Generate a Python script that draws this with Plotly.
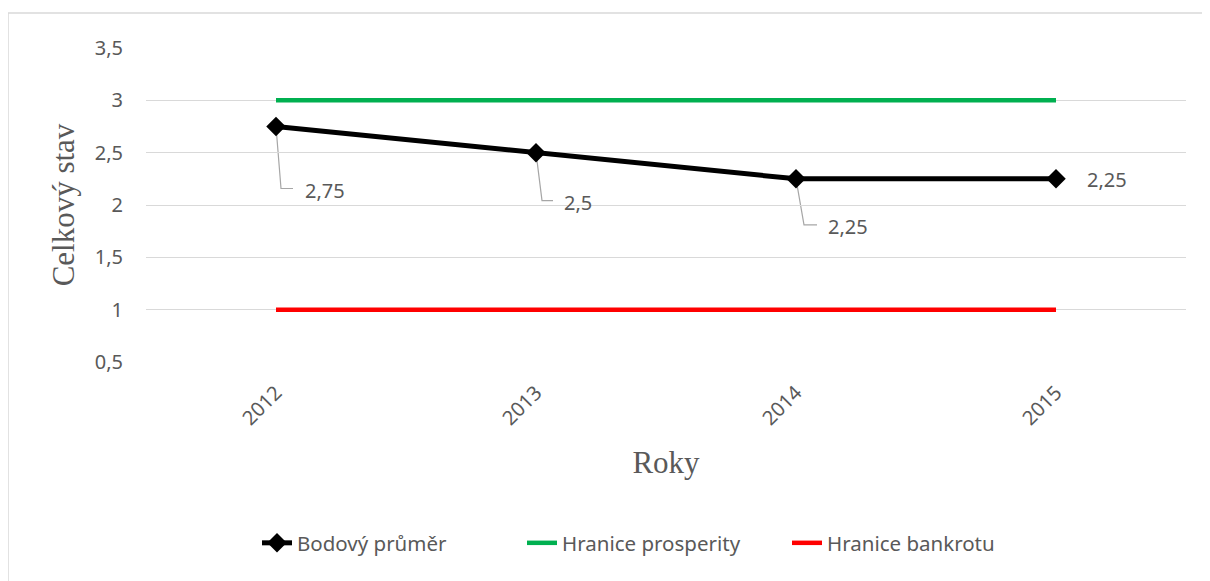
import plotly.graph_objects as go

years = ["2012", "2013", "2014", "2015"]
bodovy_prumer = [2.75, 2.5, 2.25, 2.25]
hranice_prosperity = [3, 3, 3, 3]
hranice_bankrotu = [1, 1, 1, 1]
y_ticks = [0.5, 1, 1.5, 2, 2.5, 3, 3.5]

def cz(v):
    return ("%g" % v).replace(".", ",")

# label offsets (pixels) and leader-line styling
label_style = [
    dict(dx=27, dy=-64, leader=(5, 17)),
    dict(dx=26, dy=-50, leader=(6, 17)),
    dict(dx=30, dy=-48, leader=(8, 21)),
    dict(dx=29, dy=-1, leader=None),
]

TXT = "#595959"
FONT = "Noto Sans"
W, H = 1202, 573
L, R, T, B = 138, 24, 40, 219
PW, PH = W - L - R, H - T - B

fig = go.Figure()
fig.add_trace(go.Scatter(x=years, y=bodovy_prumer, name="Bodový průměr", mode="lines+markers",
                         line=dict(color="black", width=5),
                         marker=dict(symbol="diamond", size=15, color="black")))
fig.add_trace(go.Scatter(x=years, y=hranice_prosperity, name="Hranice prosperity", mode="lines",
                         line=dict(color="#00B050", width=4.5)))
fig.add_trace(go.Scatter(x=years, y=hranice_bankrotu, name="Hranice bankrotu", mode="lines",
                         line=dict(color="#FF0000", width=4.5)))

for i, (yr, v, st) in enumerate(zip(years, bodovy_prumer, label_style)):
    fig.add_annotation(x=i, y=v, xref="x", yref="y", text=cz(v), showarrow=False,
                       xanchor="left", yanchor="middle", xshift=st["dx"], yshift=st["dy"],
                       font=dict(family=FONT, size=20, color=TXT))
    if st["leader"]:
        lx, hx = st["leader"]
        ly = st["dy"] + 2
        fig.add_shape(type="path", xref="x", yref="y", xsizemode="pixel", ysizemode="pixel",
                      xanchor=i, yanchor=v,
                      path=f"M0,0 L{lx},{ly} L{hx},{ly}",
                      line=dict(color="#A6A6A6", width=1.2), layer="below")

# outer chart frame
fig.add_shape(type="rect", xref="paper", yref="paper",
              x0=(0 - L) / PW, x1=(W + 30 - L) / PW,
              y0=(PH - H - 30) / PH, y1=(PH + T - 5) / PH,
              line=dict(color="#D9D9D9", width=1.5), fillcolor="rgba(0,0,0,0)", layer="below")

fig.update_layout(
    width=W, height=H,
    margin=dict(l=L, r=R, t=T, b=B),
    paper_bgcolor="white", plot_bgcolor="white",
    font=dict(family=FONT, size=20, color=TXT),
    showlegend=True,
    legend=dict(orientation="h", x=(257 - 8 - L) / PW, xanchor="left", y=(PH - (543 - 8 - T)) / PH,
                yanchor="middle", font=dict(family=FONT, size=20.5, color=TXT),
                entrywidth=220, traceorder="normal"),
)
fig.update_xaxes(type="category", range=[-0.5, 3.5], tickangle=-45, showgrid=False, zeroline=False,
                 showline=False, ticks="", ticklabelstandoff=14,
                 tickfont=dict(family=FONT, size=20, color=TXT),
                 title=dict(text="Roky", font=dict(family="Liberation Serif", size=31, color=TXT), standoff=21))
fig.update_yaxes(range=[0.5, 3.5], tickvals=y_ticks, ticktext=[cz(t) for t in y_ticks],
                 showgrid=True, gridcolor="#D9D9D9", gridwidth=1.3, zeroline=False, showline=False,
                 ticks="", ticklabelstandoff=22,
                 tickfont=dict(family=FONT, size=20, color=TXT),
                 title=dict(text="Celkový stav", font=dict(family="Liberation Serif", size=31, color=TXT), standoff=10))

fig.write_html("out.html")
